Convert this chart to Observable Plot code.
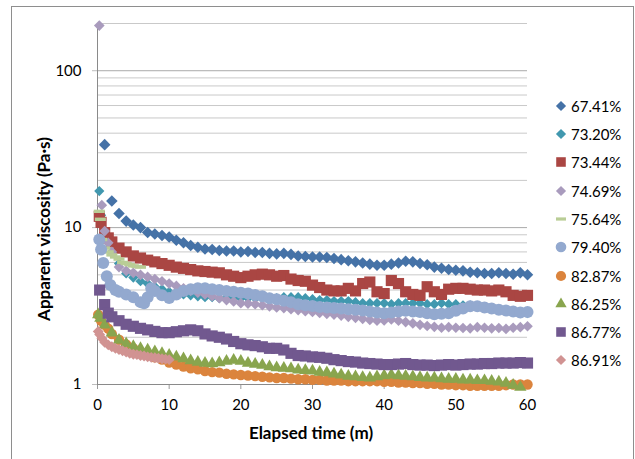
<!DOCTYPE html>
<html><head><meta charset="utf-8">
<script src="https://cdn.jsdelivr.net/npm/d3@7"></script>
<script src="https://cdn.jsdelivr.net/npm/@observablehq/plot@0.6"></script>
<style>
html,body{margin:0;padding:0;background:#fff;}
#wrap{position:relative;width:635px;height:459px;overflow:hidden;font-family:Lato,"Open Sans",sans-serif;color:#000;}
#frame{position:absolute;left:11px;top:6px;width:623px;height:480px;border:1px solid #8e8e8e;box-sizing:border-box;}
#chart{position:absolute;left:0;top:0;}
.ttl{position:absolute;font-weight:bold;font-size:17px;white-space:nowrap;transform:translate(-50%,-50%);}
#ytitle{left:43px;top:229px;transform:translate(-50%,-50%) rotate(-90deg);}
#xtitle{left:311px;top:432px;}
.lg{position:absolute;left:553px;height:20px;display:flex;align-items:center;font-size:15px;}
.lg svg{width:16px;height:16px;margin-right:2px;}
</style></head><body>
<div id="wrap"><div id="frame"></div><div id="chart"></div>
<div class="ttl" id="ytitle">Apparent viscosity (Pa·s)</div>
<div class="ttl" id="xtitle">Elapsed time (m)</div>
</div>
<script>
// ---- data (time in minutes, viscosity in Pa·s) ----
const seriesNames = ["67.41%","73.20%","73.44%","74.69%","75.64%","79.40%","82.87%","86.25%","86.77%","86.91%"];
const xTicks = [0,10,20,30,40,50,60];
const yTicks = [1,10,100];
const yMinorGrid = [2,3,4,5,6,7,8,9,20,30,40,50,60,70,80,90,200];
const yMajorGrid = [10,100];

const s6741 = [[1,33.8],[2,14.8],[3,12.3],[4,11.0],[5,10.4],[6,10.0],[7,9.3],[8,9.1],[9,8.9],[10,8.7],[11,8.3],[12,8.0],[13,7.7],[14,7.5],[15,7.3],[16,7.25],[17,7.15],[18,7.1],[19,7.1],[20,7.0],[21,7.05],[22,6.95],[23,6.95],[24,6.85],[25,6.8],[26,6.85],[27,6.75],[28,6.6],[29,6.55],[30,6.5],[31,6.5],[32,6.45],[33,6.35],[34,6.25],[35,6.15],[36,6.05],[37,5.95],[38,5.85],[39,5.75],[40,5.75],[41,5.85],[42,5.95],[43,6.1],[44,6.05],[45,5.9],[46,5.8],[47,5.6],[48,5.5],[49,5.4],[50,5.35],[51,5.3],[52,5.2],[53,5.15],[54,5.1],[55,5.1],[56,5.15],[57,5.1],[58,5.05],[59,5.15],[60,5.0]];
const s7320 = [[0.25,17.1],[0.5,12.0],[1,9.5],[1.5,8.0],[2,7.0],[3,5.9],[4,5.1],[5,4.8],[6,4.55],[7,4.4],[8,4.2],[9,4.05],[10,3.9],[11,3.8],[12,3.75],[13,3.7],[14,3.65],[15,3.6],[16,3.6],[17,3.55],[18,3.55],[19,3.55],[20,3.55],[21,3.55],[22,3.55],[23,3.55],[24,3.55],[25,3.55],[26,3.6],[27,3.6],[28,3.6],[29,3.55],[30,3.5],[31,3.45],[32,3.45],[33,3.4],[34,3.4],[35,3.4],[36,3.35],[37,3.3],[38,3.3],[39,3.3],[40,3.3],[41,3.25],[42,3.3],[43,3.3],[44,3.3],[45,3.3],[46,3.25],[47,3.25],[48,3.3],[49,3.25],[50,3.25],[51,3.2],[52,3.2],[53,3.15],[54,3.1],[55,3.05],[56,3.0],[57,2.95],[58,2.9],[59,2.85],[60,2.85]];
const s7344 = [[0.25,11.8],[0.5,10.8],[1,9.3],[1.5,8.6],[2,8.1],[3,7.4],[4,7.0],[5,6.6],[6,6.4],[7,6.2],[8,6.05],[9,5.9],[10,5.75],[11,5.6],[12,5.5],[13,5.4],[14,5.3],[15,5.25],[16,5.2],[17,5.15],[18,5.0],[19,4.9],[20,4.8],[21,4.9],[22,5.0],[23,5.05],[24,5.0],[25,4.9],[26,4.95],[27,4.7],[28,4.6],[29,4.55],[30,4.3],[31,4.15],[32,4.0],[33,3.95],[34,3.95],[35,4.1],[36,3.95],[37,4.4],[38,4.5],[39,3.9],[40,3.8],[41,4.6],[42,4.4],[43,3.9],[44,3.75],[45,3.7],[46,4.2],[47,3.9],[48,3.75],[49,4.05],[50,4.1],[51,4.1],[52,4.05],[53,4.0],[54,4.0],[55,3.95],[56,4.0],[57,3.9],[58,3.7],[59,3.65],[60,3.7]];
const s7469 = [[0.25,194],[0.6,13.9],[1,9.5],[1.5,8.0],[2,7.0],[3,5.6],[4,5.3],[5,5.15],[6,5.0],[7,4.85],[8,4.7],[9,4.55],[10,4.4],[11,4.25],[12,4.1],[13,3.95],[14,3.85],[15,3.75],[16,3.65],[17,3.55],[18,3.45],[19,3.38],[20,3.3],[21,3.28],[22,3.25],[23,3.2],[24,3.15],[25,3.1],[26,3.07],[27,3.02],[28,2.98],[29,2.93],[30,2.9],[31,2.86],[32,2.82],[33,2.79],[34,2.75],[35,2.7],[36,2.66],[37,2.62],[38,2.58],[39,2.55],[40,2.56],[41,2.6],[42,2.55],[43,2.5],[44,2.45],[45,2.4],[46,2.36],[47,2.33],[48,2.3],[49,2.32],[50,2.3],[51,2.29],[52,2.28],[53,2.32],[54,2.3],[55,2.28],[56,2.29],[57,2.26],[58,2.3],[59,2.32],[60,2.35]];
const s7564 = [[0.25,12.7],[0.4,11.3],[0.6,8.4],[1,7.4],[1.5,7.0],[2,6.7],[2.5,6.5],[3,6.3],[3.5,6.0],[4,5.9],[4.5,5.8],[5,5.7],[5.5,5.65],[6,5.6]];
const s7940 = [[0.25,8.4],[0.5,7.25],[0.8,5.95],[1.3,4.9],[1.8,4.3],[2.5,4.0],[3,3.9],[4,3.75],[5,3.6],[6,3.35],[6.5,3.3],[7,3.6],[7.5,4.1],[8,3.95],[9,3.7],[10,3.56],[11,3.75],[12,3.95],[13,4.05],[14,4.1],[15,4.1],[16,4.05],[17,4.0],[18,3.95],[19,3.9],[20,3.85],[21,3.8],[22,3.72],[23,3.65],[24,3.55],[25,3.5],[26,3.42],[27,3.35],[28,3.25],[29,3.2],[30,3.17],[31,3.12],[32,3.1],[33,3.07],[34,3.05],[35,3.02],[36,3.0],[37,2.96],[38,2.92],[39,2.88],[40,2.85],[41,2.88],[42,2.92],[43,2.95],[44,2.92],[45,2.9],[46,2.85],[47,2.8],[48,2.82],[49,2.85],[50,2.95],[51,3.05],[52,3.15],[53,3.15],[54,3.1],[55,3.05],[56,3.0],[57,2.96],[58,2.92],[59,2.88],[60,2.9]];
const s8287 = [[0.1,2.79],[0.5,2.55],[1,2.4],[1.5,2.27],[2,2.1],[3,1.93],[4,1.8],[5,1.7],[6,1.62],[7,1.56],[8,1.49],[9,1.44],[10,1.38],[11,1.34],[12,1.3],[13,1.27],[14,1.25],[15,1.22],[16,1.2],[17,1.19],[18,1.17],[19,1.16],[20,1.15],[21,1.14],[22,1.13],[23,1.12],[24,1.11],[25,1.1],[26,1.1],[27,1.09],[28,1.08],[29,1.08],[30,1.07],[31,1.07],[32,1.06],[33,1.06],[34,1.06],[35,1.05],[36,1.05],[37,1.05],[38,1.05],[39,1.05],[40,1.04],[41,1.04],[42,1.03],[43,1.03],[44,1.02],[45,1.02],[46,1.01],[47,1.01],[48,1.0],[49,1.0],[50,0.99],[51,0.99],[52,0.98],[53,0.98],[54,0.98],[55,0.98],[56,0.98],[57,0.99],[58,1.0],[59,1.0],[60,1.0]];
const s8625 = [[0.1,2.79],[0.4,2.65],[1,2.4],[2,2.13],[3,1.92],[4,1.82],[5,1.75],[6,1.7],[7,1.66],[8,1.62],[9,1.58],[10,1.54],[11,1.5],[12,1.46],[13,1.42],[14,1.39],[15,1.37],[16,1.36],[17,1.38],[18,1.41],[19,1.43],[20,1.41],[21,1.37],[22,1.35],[23,1.33],[24,1.3],[25,1.28],[26,1.27],[27,1.26],[28,1.24],[29,1.23],[30,1.22],[31,1.2],[32,1.19],[33,1.17],[34,1.15],[35,1.13],[36,1.12],[37,1.11],[38,1.1],[39,1.12],[40,1.14],[41,1.15],[42,1.14],[43,1.13],[44,1.12],[45,1.11],[46,1.1],[47,1.1],[48,1.09],[49,1.08],[50,1.08],[51,1.07],[52,1.07],[53,1.06],[54,1.06],[55,1.05],[56,1.04],[57,1.02],[58,0.99],[59,0.96]];
const s8677 = [[0.3,4.0],[1,3.23],[1.5,2.85],[2,2.7],[3,2.55],[4,2.42],[5,2.35],[6,2.28],[7,2.23],[8,2.18],[9,2.14],[10,2.14],[11,2.17],[12,2.2],[13,2.23],[14,2.2],[15,2.1],[16,2.04],[17,2.0],[18,1.95],[19,1.88],[20,1.82],[21,1.79],[22,1.77],[23,1.74],[24,1.7],[25,1.7],[26,1.66],[27,1.58],[28,1.53],[29,1.52],[30,1.5],[31,1.49],[32,1.47],[33,1.44],[34,1.42],[35,1.4],[36,1.39],[37,1.37],[38,1.36],[39,1.35],[40,1.34],[41,1.34],[42,1.35],[43,1.36],[44,1.34],[45,1.33],[46,1.33],[47,1.32],[48,1.33],[49,1.34],[50,1.33],[51,1.34],[52,1.35],[53,1.35],[54,1.36],[55,1.36],[56,1.37],[57,1.37],[58,1.37],[59,1.38],[60,1.37]];
const s8691 = [[0.1,2.18],[0.3,2.08],[0.6,1.97],[1,1.86],[1.5,1.79],[2,1.74],[2.5,1.7],[3,1.67],[3.5,1.64],[4,1.61],[4.5,1.58],[5,1.56],[5.5,1.55],[6,1.53],[6.5,1.52],[7,1.5],[7.5,1.49],[8,1.48],[8.5,1.47],[9,1.46],[9.5,1.45],[10,1.44]];

const seriesData = [s6741,s7320,s7344,s7469,s7564,s7940,s8287,s8625,s8677,s8691];
const seriesColors = ["#4572A7","#4198AF","#AA4643","#A99BBD","#B9CD96","#93A9CF","#DB843D","#89A54E","#71588F","#D19392"];
const seriesShapes = ["diamond","diamond","square","diamond","dash","circle","circle","triangle","square","diamond"];
const seriesR = [5.2,4.6,6.3,4.8,0,6,5.2,4.6,6.3,4.9];
const legendR = [4.6,4.6,5.4,4.6,0,5.3,5.1,4.2,5.4,4.6];

// ---- symbols ----
const dashSymbol = {draw(ctx, size){ ctx.rect(-5.5,-1.7,11,3.4); }};
const symMap = {diamond:"diamond2", square:"square", circle:"circle", triangle:"triangle", dash:dashSymbol};

const marks = [
  Plot.ruleY(yMinorGrid, {stroke:"#c9c9c9", strokeWidth:1}),
  Plot.ruleY(yMajorGrid, {stroke:"#a9a9a9", strokeWidth:1}),
  Plot.axisY(yTicks, {tickSize:5, tickPadding:11, stroke:"#bdbdbd", fontSize:15, tickFormat:d=>String(d), label:null}),
  Plot.axisX(xTicks, {tickSize:5, tickPadding:10, stroke:"#9a9a9a", fontSize:15, label:null}),
  Plot.ruleX([0], {stroke:"#8a8a8a"}),
  Plot.ruleY([1], {stroke:"#8a8a8a"})
];
seriesData.forEach((data,i)=>{
  marks.push(Plot.dot(data, {x:d=>d[0], y:d=>d[1], fill:seriesColors[i], stroke:"none",
    symbol: symMap[seriesShapes[i]], r: seriesShapes[i]==="dash" ? 5 : seriesR[i]}));
});

const chart = Plot.plot({
  width:635, height:459,
  marginLeft:97, marginRight:108, marginTop:23, marginBottom:75,
  style:{fontFamily:"Lato, 'Open Sans', sans-serif", fontSize:"15px", color:"#000", background:"transparent", overflow:"visible"},
  x:{domain:[0,60], axis:null},
  y:{type:"log", domain:[1,200], axis:null},
  marks
});
document.getElementById("chart").appendChild(chart);

// ---- legend ----
const wrap = document.getElementById("wrap");
seriesNames.forEach((name,i)=>{
  const row = document.createElement("div");
  row.className = "lg";
  row.style.top = (95.7 + i*28.3) + "px";
  const svg = d3.create("svg").attr("viewBox","-8 -8 16 16");
  const shape = seriesShapes[i];
  if (shape === "dash") {
    svg.append("rect").attr("x",-5).attr("y",-1.6).attr("width",10).attr("height",3.2).attr("fill",seriesColors[i]);
  } else {
    const t = {diamond:d3.symbolDiamond2, square:d3.symbolSquare, circle:d3.symbolCircle, triangle:d3.symbolTriangle}[shape];
    const r = legendR[i];
    svg.append("path").attr("d", d3.symbol(t, Math.PI*r*r)()).attr("fill",seriesColors[i]);
  }
  row.appendChild(svg.node());
  const span = document.createElement("span");
  span.textContent = name;
  row.appendChild(span);
  wrap.appendChild(row);
});
</script>
</body></html>
